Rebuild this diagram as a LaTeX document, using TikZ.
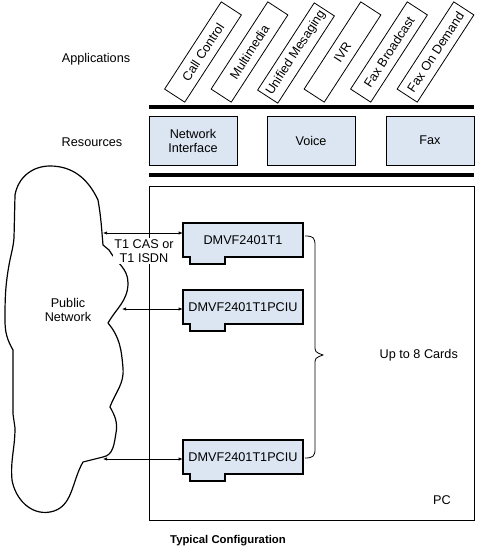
\documentclass[tikz,border=0pt]{standalone}
\usepackage{fontspec}
\setmainfont{Liberation Sans}
\usetikzlibrary{arrows.meta,calc}
\definecolor{boxblue}{RGB}{220,230,242}
\begin{document}
\begin{tikzpicture}[x=0.75pt,y=-0.75pt,
  font=\fontsize{9.5}{10.5}\selectfont,
  appbox/.style={draw, line width=0.6pt, rotate=57, minimum width=78pt, minimum height=18pt, inner sep=0pt, fill=white},
  resbox/.style={draw, line width=0.6pt, fill=boxblue, minimum width=66pt, minimum height=36.75pt, align=center, inner sep=0pt},
  barline/.style={line width=3.2pt},
  cardlbl/.style={inner sep=0pt, minimum width=90pt, minimum height=25.5pt},
  link/.style={{Latex[length=3pt,width=2.5pt]}-{Latex[length=3pt,width=2.5pt]}, line width=0.5pt},
  card/.pic={
    \filldraw[fill=boxblue, line width=1.3pt, line join=miter]
      (0,0) -- (120,0) -- (120,34) -- (42,34) -- (42,41) -- (7,41) -- (7,34) -- (0,34) -- cycle;
  }]
\useasboundingbox (0,0) rectangle (483,554);

% labels on the left
\node (apps) at (96,59) {Applications};
\node (res) at (92,142) {Resources};

% application boxes
\node[appbox] (a1) at (203,52) {Call Control};
\node[appbox] (a2) at (249.5,52) {Multimedia};
\node[appbox] (a3) at (296,53) {Unified Mesaging};
\node[appbox] (a4) at (342.5,52) {IVR};
\node[appbox] (a5) at (389,52) {Fax Broadcast};
\node[appbox] (a6) at (435.5,52) {Fax On Demand};

% bars
\draw[barline] (149,107) -- (474,107);
\draw[barline] (149,175) -- (474,175);

% resources
\node[resbox] (ni) at (193,140.5) {Network\\Interface};
\node[resbox] (vo) at (311,140.5) {Voice};
\node[resbox] (fx) at (430,140.5) {Fax};

% PC box
\draw[line width=0.7pt] (149,186) rectangle (474,520);
\node (pc) at (442,500) {PC};

% cards
\pic at (183,223) {card};
\pic at (183,290) {card};
\pic at (183,440) {card};
\node[cardlbl] (c1) at (243,240) {DMVF2401T1};
\node[cardlbl] (c2) at (243,307) {DMVF2401T1PCIU};
\node[cardlbl] (c3) at (243,457) {DMVF2401T1PCIU};

% cloud
\draw[line width=0.9pt, line join=round]
  (15,195) to[out=80,in=180] (50,166) to[out=0,in=115] (98,200) to[out=-80,in=95] (103,245) -- (109,250)
  to[out=-60,in=90] (128,283) to[out=-90,in=60] (108,323)
  to[out=-50,in=95] (123,368) to[out=-85,in=70] (110,407)
  to[out=-60,in=80] (116,433) to[out=-100,in=10] (103,457) -- (83,462)
  to[out=-120,in=10] (50,512) to[out=190,in=-80] (12,480) to[out=95,in=-90] (15,428) -- (13,414)
  -- (13,350) to[out=120,in=-90] (5,320) to[out=90,in=-100] (9,265) to[out=80,in=-95] (14,238) -- cycle;
\node[align=center] (pn) at (68,310) {Public\\Network};

% connectors
\coordinate (p1) at (103,233);
\coordinate (p2) at (122,309);
\coordinate (p3) at (103,459);
\draw[link] (p1) -- (p1 -| c1.west);
\draw[link] (p2) -- (p2 -| c2.west);
\draw[link] (p3) -- (p3 -| c3.west);

\node[fill=white, inner sep=1pt, align=center] (t1) at (144,251) {T1 CAS or\\T1 ISDN};

% brace
\draw[line width=0.6pt]
  (305,236) .. controls (314,236) and (315,238) .. (315,246) -- (315,345)
  .. controls (315,352) .. (323,355) .. controls (315,358) .. (315,365) -- (315,449)
  .. controls (315,456) and (313,458) .. (305,458);
\node[anchor=west] (upto) at (375,355) {Up to 8 Cards};

\node[font=\bfseries\fontsize{8.5}{10}\selectfont] (cap) at (228,541) {Typical Configuration};
\end{tikzpicture}
\end{document}
